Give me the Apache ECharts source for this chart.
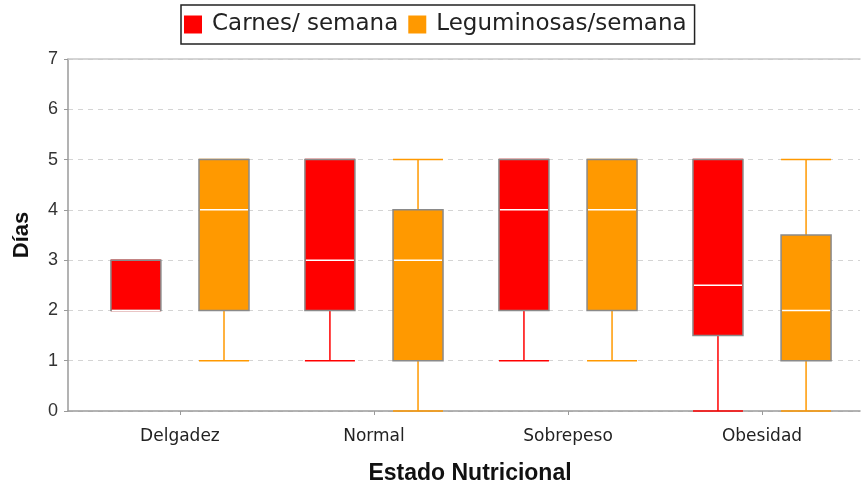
<!DOCTYPE html>
<html>
<head>
<meta charset="utf-8">
<script src="https://cdn.jsdelivr.net/npm/echarts@6/dist/echarts.min.js"></script>
<style>
html,body{margin:0;padding:0;background:#fff;}
#chart{width:864px;height:488px;}
</style>
</head>
<body>
<div id="chart"></div>
<script>
// categorias del eje x
var categorias = ['Delgadez', 'Normal', 'Sobrepeso', 'Obesidad'];
var yTicks = [0, 1, 2, 3, 4, 5, 6, 7];
// [min, Q1, mediana, Q3, max] por categoria
var carnes = [
	[2, 2, 2, 3, 3],
	[1, 2, 3, 5, 5],
	[1, 2, 4, 5, 5],
	[0, 1.5, 2.5, 5, 5]
];
var leguminosas = [
	[1, 2, 4, 5, 5],
	[0, 1, 3, 4, 5],
	[1, 2, 4, 5, 5],
	[0, 1, 2, 3.5, 5]
];
var nombres = ['Carnes/ semana', 'Leguminosas/semana'];
var colores = ['#ff0000', '#ff9900'];
var indices = categorias.map(function(c, i){ return i; });

//convertir a datos de la serie custom
function toData(arr){
	return arr.map(function(d, i){ return [i].concat(d); });
}

//dibuja una caja (lado -1 izquierda, 1 derecha)
function renderBox(color, lado){
	return function(params, api){
		var band = api.size([1, 0])[0];
		var disp = band * 0.8 - 2;
		var bw = Math.min(disp * 0.425, 50);
		var off = disp * 0.2875 * lado;
		var i = api.value(0);
		var pMin = api.coord([i, api.value(1)]);
		var pQ1 = api.coord([i, api.value(2)]);
		var pMed = api.coord([i, api.value(3)]);
		var pQ3 = api.coord([i, api.value(4)]);
		var pMax = api.coord([i, api.value(5)]);
		var cx = pMin[0] + off;
		var x0 = cx - bw / 2, x1 = cx + bw / 2;
		var wStyle = {stroke: color, lineWidth: 1.5};
		return {
			type: 'group',
			children: [
				{type: 'line', shape: {x1: cx, y1: pMin[1], x2: cx, y2: pQ1[1]}, style: wStyle},
				{type: 'line', shape: {x1: cx, y1: pQ3[1], x2: cx, y2: pMax[1]}, style: wStyle},
				{type: 'line', shape: {x1: x0, y1: pMin[1], x2: x1, y2: pMin[1]}, style: wStyle},
				{type: 'line', shape: {x1: x0, y1: pMax[1], x2: x1, y2: pMax[1]}, style: wStyle},
				{type: 'rect', shape: {x: x0, y: pQ3[1], width: bw, height: pQ1[1] - pQ3[1]},
					style: {fill: color, stroke: '#8a8a8a', lineWidth: 1.5}},
				{type: 'line', shape: {x1: x0 + 1, y1: pMed[1], x2: x1 - 1, y2: pMed[1]},
					style: {stroke: '#ffffff', lineWidth: 1.5}}
			]
		};
	};
}

var chart = echarts.init(document.getElementById('chart'));
var option = {
	animation: false,
	legend: {
		top: 5,
		left: 181,
		data: nombres,
		icon: 'rect',
		itemWidth: 18,
		itemHeight: 18,
		itemGap: 10,
		padding: [8, 8, 8, 3],
		borderColor: '#222',
		borderWidth: 1.5,
		textStyle: {fontFamily: 'DejaVu Sans', fontSize: 23, color: '#222', padding: [0, 0, 0, 5]}
	},
	grid: {left: 68, right: 4, top: 59, bottom: 77, outerBoundsMode: 'none', containLabel: false},
	xAxis: [{
		type: 'value',
		min: -0.577,
		max: 3.505,
		name: 'Estado Nutricional',
		nameLocation: 'middle',
		nameGap: 51,
		nameTextStyle: {fontFamily: 'Liberation Sans', fontWeight: 'bold', fontSize: 23, color: '#111', padding: [0, 0, 0, 12]},
		axisLine: {onZero: false, lineStyle: {color: '#9a9a9a', width: 1.5}},
		axisTick: {show: true, customValues: indices, length: 4, lineStyle: {color: '#9a9a9a'}},
		axisLabel: {
			customValues: indices,
			margin: 17,
			fontFamily: 'DejaVu Sans',
			fontSize: 17,
			color: '#222',
			formatter: function(v){ return categorias[Math.round(v)]; }
		},
		splitLine: {show: false}
	}, {
		type: 'value',
		min: -0.577,
		max: 3.505,
		position: 'top',
		axisLine: {show: true, onZero: false, lineStyle: {color: '#c8c8c8', width: 1.5}},
		axisTick: {show: false},
		axisLabel: {show: false},
		splitLine: {show: false}
	}],
	yAxis: {
		type: 'value',
		min: yTicks[0],
		max: yTicks[yTicks.length - 1],
		interval: 1,
		name: 'Días',
		nameLocation: 'middle',
		nameGap: 35,
		nameTextStyle: {fontFamily: 'Liberation Sans', fontWeight: 'bold', fontSize: 22, color: '#111'},
		axisLine: {show: true, onZero: false, lineStyle: {color: '#9a9a9a', width: 1.5}},
		axisTick: {show: true, length: 4, lineStyle: {color: '#9a9a9a'}},
		axisLabel: {margin: 10, fontFamily: 'Liberation Sans', fontSize: 18, color: '#333'},
		splitLine: {lineStyle: {color: '#d4d4d4', type: [5, 5]}}
	},
	series: [{
		name: nombres[0],
		type: 'custom',
		renderItem: renderBox(colores[0], -1),
		itemStyle: {color: colores[0]},
		encode: {x: 0, y: [1, 2, 3, 4, 5]},
		data: toData(carnes)
	}, {
		name: nombres[1],
		type: 'custom',
		renderItem: renderBox(colores[1], 1),
		itemStyle: {color: colores[1]},
		encode: {x: 0, y: [1, 2, 3, 4, 5]},
		data: toData(leguminosas)
	}]
};
chart.setOption(option);
</script>
</body>
</html>
